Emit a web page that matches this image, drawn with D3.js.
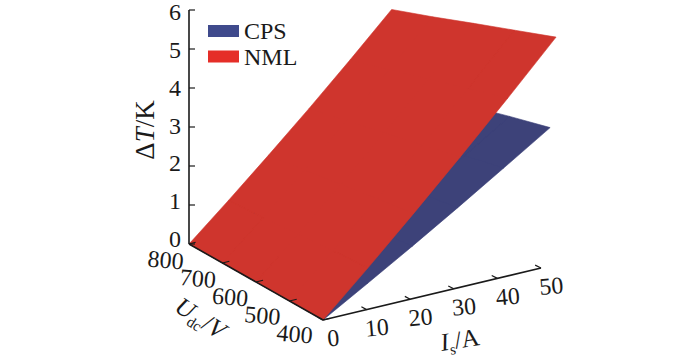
<!DOCTYPE html>
<html>
<head>
<meta charset="utf-8">
<script src="https://cdn.jsdelivr.net/npm/d3@7"></script>
<style>
  html, body { margin: 0; padding: 0; background: #fff; }
  text { font-family: "Liberation Serif", serif; fill: #1a1a1a; }
</style>
</head>
<body>
<svg id="chart" width="700" height="362"></svg>
<script>
// Values
const currents = [0, 10, 20, 30, 40, 50];
const voltages = [400, 500, 600, 700, 800];
const tempTicks = [0, 1, 2, 3, 4, 5, 6];

// Delta T, one row per voltage, one column per current
const cpsValues = [
  [0, 0.67, 1.36, 2.08, 2.83, 3.60],
  [0, 0.63, 1.29, 1.96, 2.66, 3.40],
  [0, 0.59, 1.21, 1.84, 2.50, 3.18],
  [0, 0.55, 1.12, 1.71, 2.33, 2.96],
  [0, 0.51, 1.03, 1.58, 2.15, 2.74],
];
const nmlValues = [
  [0, 1.07, 2.20, 3.38, 4.62, 5.92],
  [0, 1.02, 2.09, 3.20, 4.38, 5.61],
  [0, 0.96, 1.97, 3.03, 4.14, 5.30],
  [0, 0.90, 1.85, 2.85, 3.89, 4.98],
  [0, 0.85, 1.74, 2.67, 3.65, 4.68],
];

const svg = d3.select("#chart");

// Scales for the three axes
const xScale = d3.scaleLinear().domain([0, 50]).range([0, 1]);
const yScale = d3.scaleLinear().domain([400, 800]).range([0, 1]);
const zScale = d3.scaleLinear().domain([0, 6]).range([0, 234]);

// Tick labels drift a little against their ticks in the picture
const zLabelY = d3.scaleLinear().domain([0, 6]).range([247, 20]);
const uLabelDx = d3.scaleLinear().domain([400, 800]).range([-29, -24]);
const uLabelDy = d3.scaleLinear().domain([400, 800]).range([22, 24]);

// Floor corners on screen, the picture has a slight perspective
const floor = {
  a: [323, 320], // 0 A, 400 V
  b: [541, 268], // 50 A, 400 V
  c: [189, 244], // 0 A, 800 V
  d: [385, 192], // 50 A, 800 V
};

// Turns (current, voltage, delta T) into a screen point
const project = (i, u, t) => {
  const s = xScale(i);
  const r = yScale(u);
  const bx = (1 - s) * (1 - r) * floor.a[0] + s * (1 - r) * floor.b[0] + (1 - s) * r * floor.c[0] + s * r * floor.d[0];
  const by = (1 - s) * (1 - r) * floor.a[1] + s * (1 - r) * floor.b[1] + (1 - s) * r * floor.c[1] + s * r * floor.d[1];
  const h = zScale(t);
  // verticals lean outward as they go up
  return [bx + ((bx - floor.c[0]) / 5400) * h, by - h];
};

const line = d3.line();

// Draws one surface as one path of small quads, so no seams show
function drawSurface(values, color) {
  let d = "";
  voltages.slice(0, -1).forEach((u, r) => {
    currents.slice(0, -1).forEach((i, c) => {
      const quad = [
        project(i, u, values[r][c]),
        project(currents[c + 1], u, values[r][c + 1]),
        project(currents[c + 1], voltages[r + 1], values[r + 1][c + 1]),
        project(i, voltages[r + 1], values[r + 1][c]),
      ];
      d += line(quad) + "Z";
    });
  });
  svg.append("path")
    .attr("d", d)
    .attr("fill", color)
    .attr("stroke", color)
    .attr("stroke-width", 0.6)
    .attr("stroke-linejoin", "round");
}

drawSurface(cpsValues, "#3d4279");
drawSurface(nmlValues, "#cf352d");

// Axes
const axisLine = (p, q, w) =>
  svg.append("line")
    .attr("x1", p[0]).attr("y1", p[1])
    .attr("x2", q[0]).attr("y2", q[1])
    .attr("stroke", "#1a1a1a")
    .attr("stroke-width", w);

axisLine(project(0, 800, 0), project(0, 800, 6), 1.6);
axisLine(project(0, 400, 0), project(0, 800, 0), 1.6);
axisLine(project(0, 400, 0), project(50, 400, 0), 1.6);

tempTicks.forEach((t) => {
  const p = project(0, 800, t);
  axisLine(p, [p[0] + 6, p[1]], 1.2);
  svg.append("text")
    .attr("x", p[0] - 14)
    .attr("y", zLabelY(t))
    .attr("font-size", 24)
    .attr("text-anchor", "middle")
    .text(t);
});

voltages.forEach((u) => {
  const p = project(0, u, 0);
  const q = project(1.7, u, 0);
  axisLine(p, q, 1.2);
  svg.append("text")
    .attr("transform", `translate(${p[0] + uLabelDx(u)},${p[1] + uLabelDy(u)}) rotate(5)`)
    .attr("font-size", 24)
    .attr("text-anchor", "middle")
    .text(u);
});

currents.forEach((i) => {
  const p = project(i, 400, 0);
  const q = project(i, 415, 0);
  axisLine(p, q, 1.2);
  svg.append("text")
    .attr("transform", `translate(${p[0] + 11},${p[1] + 26}) rotate(-5)`)
    .attr("font-size", 24)
    .attr("text-anchor", "middle")
    .text(i);
});

// Axis titles
const zTitle = svg.append("text")
  .attr("transform", "translate(154,130) rotate(-90)")
  .attr("font-size", 27)
  .attr("text-anchor", "middle");
zTitle.append("tspan").text("Δ");
zTitle.append("tspan").attr("font-style", "italic").text("T");
zTitle.append("tspan").text("/K");

const uTitle = svg.append("text")
  .attr("transform", "translate(196,325) rotate(33)")
  .attr("font-size", 25)
  .attr("text-anchor", "middle");
uTitle.append("tspan").attr("font-style", "italic").text("U");
uTitle.append("tspan").attr("font-size", 15).attr("dy", 5).text("dc");
uTitle.append("tspan").attr("dy", -5).text("/");
uTitle.append("tspan").attr("font-style", "italic").text("V");

const iTitle = svg.append("text")
  .attr("transform", "translate(461,348) rotate(-9)")
  .attr("font-size", 25)
  .attr("text-anchor", "middle");
iTitle.append("tspan").attr("font-style", "italic").text("I");
iTitle.append("tspan").attr("font-size", 15).attr("dy", 5).text("s");
iTitle.append("tspan").attr("dy", -5).text("/A");

// Legend
const legendNames = ["CPS", "NML"];
const legendColors = ["#3f4a8c", "#e52e28"];
const legendY = d3.scalePoint().domain(legendNames).range([31, 56.5]);

legendNames.forEach((name, k) => {
  svg.append("rect")
    .attr("x", 208)
    .attr("y", legendY(name) - 6)
    .attr("width", 31)
    .attr("height", 12)
    .attr("fill", legendColors[k]);
  svg.append("text")
    .attr("x", 244)
    .attr("y", legendY(name) + 8)
    .attr("font-size", 24)
    .text(name);
});
</script>
</body>
</html>
